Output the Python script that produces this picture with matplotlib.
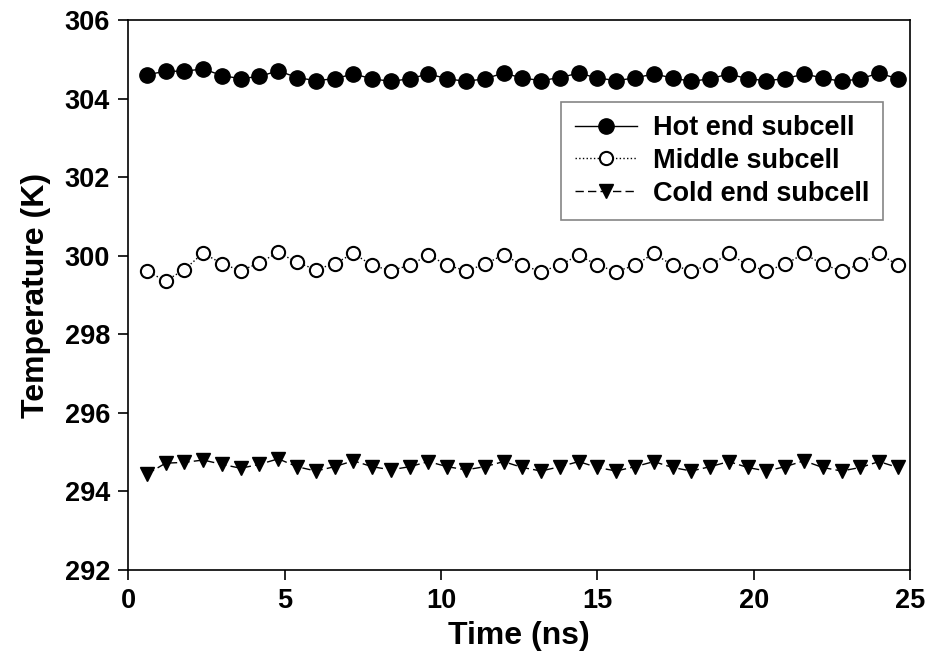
import matplotlib
matplotlib.use("Agg")
import matplotlib.pyplot as plt
import numpy as np

plt.rcParams['font.family'] = ['Liberation Sans', 'DejaVu Sans']
plt.rcParams['font.weight'] = 'bold'

time_ns = [round(0.6 * k, 1) for k in range(1, 42)]

hot_end = [304.61, 304.70, 304.70, 304.76, 304.59, 304.51, 304.57, 304.71, 304.54, 304.46,
           304.51, 304.63, 304.51, 304.44, 304.51, 304.63, 304.51, 304.44, 304.51, 304.65,
           304.53, 304.46, 304.54, 304.65, 304.53, 304.46, 304.53, 304.63, 304.53, 304.44,
           304.51, 304.63, 304.51, 304.46, 304.51, 304.63, 304.53, 304.44, 304.51, 304.65,
           304.51]
middle = [299.61, 299.36, 299.65, 300.07, 299.80, 299.62, 299.82, 300.09, 299.83, 299.65,
          299.80, 300.06, 299.76, 299.62, 299.76, 300.02, 299.76, 299.62, 299.78, 300.03,
          299.76, 299.60, 299.76, 300.02, 299.76, 299.60, 299.76, 300.06, 299.76, 299.62,
          299.76, 300.06, 299.76, 299.62, 299.78, 300.06, 299.78, 299.62, 299.78, 300.06,
          299.76]
cold_end = [294.44, 294.72, 294.74, 294.80, 294.69, 294.59, 294.69, 294.83, 294.63, 294.52,
            294.63, 294.78, 294.63, 294.55, 294.63, 294.76, 294.63, 294.55, 294.63, 294.76,
            294.61, 294.52, 294.63, 294.76, 294.61, 294.52, 294.63, 294.76, 294.61, 294.52,
            294.63, 294.76, 294.61, 294.52, 294.63, 294.78, 294.61, 294.52, 294.61, 294.76,
            294.61]

labels = ["Hot end subcell", "Middle subcell", "Cold end subcell"]
x_ticks = [0, 5, 10, 15, 20, 25]
y_ticks = [292, 294, 296, 298, 300, 302, 304, 306]

fig = plt.figure(figsize=(9.28, 6.64), dpi=100)
ax = fig.add_axes([0.138, 0.1416, 0.843, 0.828])

ax.plot(time_ns, hot_end, '-', color='black', lw=1.0, marker='o', ms=11,
        mfc='black', mec='black', label=labels[0])
ax.plot(time_ns, middle, ':', color='black', lw=1.0, marker='o', ms=9.5,
        mfc='white', mec='black', mew=1.5, label=labels[1])
ax.plot(time_ns, cold_end, '--', color='black', lw=1.0, marker='v', ms=10,
        mfc='black', mec='black', label=labels[2], dashes=(6, 3))

ax.set_xlim(0, 25)
ax.set_ylim(292, 306)
ax.set_xticks(x_ticks)
ax.set_yticks(y_ticks)
ax.tick_params(direction='out', length=7, width=1.2, labelsize=19.5, pad=6)
for lab in ax.get_xticklabels() + ax.get_yticklabels():
    lab.set_fontweight('bold')
for s in ax.spines.values():
    s.set_linewidth(1.2)

ax.set_xlabel("Time (ns)", fontsize=23, fontweight='bold', labelpad=5)
ax.set_ylabel("Temperature (K)", fontsize=23, fontweight='bold', labelpad=10)

leg = ax.legend(loc='upper right', bbox_to_anchor=(0.965, 0.852),
                frameon=True, fancybox=False, handlelength=2.3, handletextpad=0.6,
                borderpad=0.5, labelspacing=0.25, borderaxespad=0,
                prop={'weight': 'bold', 'size': 19.5})
leg.get_frame().set_edgecolor('#666666')
leg.get_frame().set_linewidth(1.2)

fig.savefig("out.png", dpi=100)
